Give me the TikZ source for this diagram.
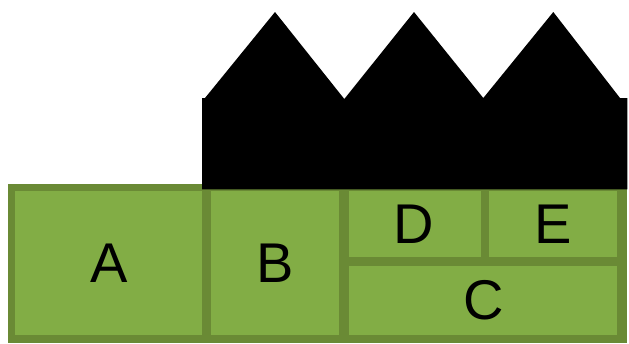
\documentclass[tikz,border=0pt]{standalone}
\usepackage{fontspec}
\setmainfont{Liberation Sans}
\definecolor{cellgreen}{HTML}{82AD45}
\definecolor{framegreen}{HTML}{6A8A35}
\tikzset{
  x=1bp,y=-1bp,
  cell/.style={fill=cellgreen,draw=none,inner sep=0pt,outer sep=0pt,text=black,
    font=\fontsize{56bp}{56bp}\selectfont,anchor=center},
}
\begin{document}
\begin{tikzpicture}
\useasboundingbox[fill=white] (0,0) rectangle (629,343);
% frame band
\fill[framegreen] (7.5,183.5) rectangle (627.3,342.7);
% black building silhouette
\fill[black] (202,189.3) -- (202,98) -- (205,98) -- (275,12) -- (344.3,99) -- (414,12)
  -- (483.3,98) -- (553.3,12) -- (620,98) -- (627.3,98) -- (627.3,189.3) -- cycle;
% cells
\node[cell,minimum width=187bp,minimum height=144bp] (A) at (108.8,263) {A};
\node[cell,minimum width=128.6bp,minimum height=144bp] (B) at (275,263) {B};
\node[cell,minimum width=131.4bp,minimum height=66bp] (D) at (415,224.3) {\hspace*{-3bp}D};
\node[cell,minimum width=128.6bp,minimum height=66bp] (E) at (553,224.3) {E};
\node[cell,minimum width=268bp,minimum height=69.3bp] (C) at (483.3,300.3) {\raisebox{-1.5bp}{C}};
\end{tikzpicture}
\end{document}
